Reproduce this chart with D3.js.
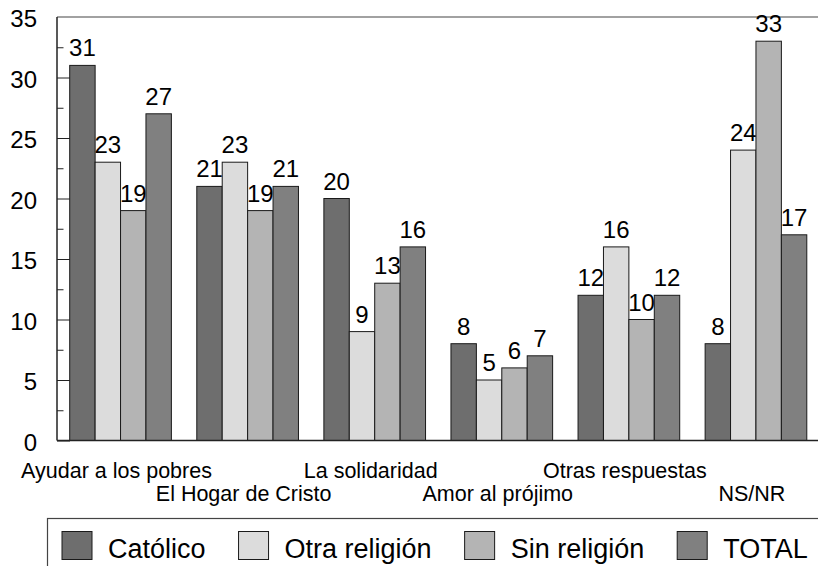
<!DOCTYPE html>
<html>
<head>
<meta charset="utf-8">
<script src="https://cdn.jsdelivr.net/npm/d3@7"></script>
<style>
  body { margin: 0; background: #fff; }
  svg { display: block; font-family: "Liberation Sans", Arial, sans-serif; }
</style>
</head>
<body>
<div id="chart"></div>
<script>
// Data
const categories = ["Ayudar a los pobres", "El Hogar de Cristo", "La solidaridad",
  "Amor al prójimo", "Otras respuestas", "NS/NR"];
const seriesNames = ["Católico", "Otra religión", "Sin religión", "TOTAL"];
const catolico = [31, 21, 20, 8, 12, 8];
const otraReligion = [23, 23, 9, 5, 16, 24];
const sinReligion = [19, 19, 13, 6, 10, 33];
const total = [27, 21, 16, 7, 12, 17];
const yTicks = [0, 5, 10, 15, 20, 25, 30, 35];

const seriesValues = [catolico, otraReligion, sinReligion, total];
const colors = ["#6e6e6e", "#dcdcdc", "#b4b4b4", "#808080"];

const svgWidth = 818;
const svgHeight = 566;

const svg = d3.select("#chart")
  .append("svg")
  .attr("width", svgWidth)
  .attr("height", svgHeight);

// scales
const x0 = d3.scaleBand()
  .domain(categories)
  .range([57, 819.5])
  .paddingInner(0.2)
  .paddingOuter(0.1);

const x1 = d3.scaleBand()
  .domain(seriesNames)
  .range([0, x0.bandwidth()]);

const y = d3.scaleLinear()
  .domain([0, 35])
  .range([440.5, 17]);

// frame top line
svg.append("line")
  .attr("x1", 57).attr("x2", svgWidth)
  .attr("y1", y(35)).attr("y2", y(35))
  .attr("stroke", "#444")
  .attr("stroke-width", 1.2);

// bars
const groups = svg.selectAll("g.cat")
  .data(categories)
  .enter()
  .append("g")
  .attr("class", "cat")
  .attr("transform", d => `translate(${x0(d)},0)`);

const cells = groups.selectAll("g.bar")
  .data((d, i) => seriesNames.map((s, j) => ({ s: s, j: j, v: seriesValues[j][i] })))
  .enter()
  .append("g");

cells.append("rect")
  .attr("x", d => x1(d.s))
  .attr("y", d => y(d.v))
  .attr("width", x1.bandwidth())
  .attr("height", d => y(0) - y(d.v))
  .attr("fill", d => colors[d.j])
  .attr("stroke", "#1a1a1a")
  .attr("stroke-width", 1);

cells.append("text")
  .text(d => d.v)
  .attr("x", d => x1(d.s) + x1.bandwidth() / 2)
  .attr("y", d => y(d.v) - 9)
  .attr("text-anchor", "middle")
  .attr("font-size", 24)
  .attr("fill", "#000");

// y axis (ticks inside)
const leftAxis = d3.axisRight(y)
  .tickValues(d3.range(0, 35, 2.5))
  .tickSize(6.5)
  .tickFormat("");

const axisG = svg.append("g")
  .attr("transform", "translate(57,0)")
  .call(leftAxis);
axisG.select(".domain").remove();
axisG.selectAll(".tick line")
  .attr("stroke", "#222")
  .attr("x2", d => d % 5 === 0 ? 13 : 6.5);

svg.append("line")
  .attr("x1", 57).attr("x2", 57)
  .attr("y1", y(35)).attr("y2", y(0))
  .attr("stroke", "#222")
  .attr("stroke-width", 1.5);

svg.append("line")
  .attr("x1", 57).attr("x2", svgWidth)
  .attr("y1", y(0)).attr("y2", y(0))
  .attr("stroke", "#222")
  .attr("stroke-width", 1.5);

svg.selectAll("text.ytick")
  .data(yTicks)
  .enter()
  .append("text")
  .attr("class", "ytick")
  .attr("x", 37)
  .attr("y", d => y(d) + 2)
  .attr("dy", "0.35em")
  .attr("text-anchor", "end")
  .attr("font-size", 24)
  .text(d => d);

// category labels, staggered on two rows
svg.selectAll("text.cat")
  .data(categories)
  .enter()
  .append("text")
  .attr("class", "cat")
  .attr("x", d => x0(d) + x0.bandwidth() / 2 - 4)
  .attr("y", (d, i) => i % 2 === 0 ? 477.5 : 501)
  .attr("text-anchor", "middle")
  .attr("font-size", 21.5)
  .text(d => d);

// legend
svg.append("rect")
  .attr("x", 47.5)
  .attr("y", 518.5)
  .attr("width", 800)
  .attr("height", 80)
  .attr("fill", "none")
  .attr("stroke", "#444")
  .attr("stroke-width", 1.2);

let lx = 62;
seriesNames.forEach((name, i) => {
  svg.append("rect")
    .attr("x", lx)
    .attr("y", 531.5)
    .attr("width", 30)
    .attr("height", 28)
    .attr("fill", colors[i])
    .attr("stroke", "#1a1a1a");
  const t = svg.append("text")
    .attr("x", lx + 46)
    .attr("y", 558)
    .attr("font-size", 27)
    .text(name);
  lx = lx + 46 + t.node().getComputedTextLength() + 33;
});
</script>
</body>
</html>
